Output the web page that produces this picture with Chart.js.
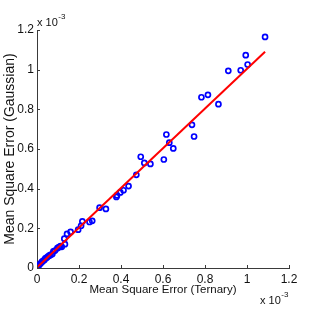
<!DOCTYPE html>
<html>
<head>
<meta charset="utf-8">
<script src="https://cdn.jsdelivr.net/npm/chart.js@4/dist/chart.umd.min.js"></script>
<style>
html,body{margin:0;padding:0;background:#fff;}
#wrap{width:311px;height:311px;}
</style>
</head>
<body>
<div id="wrap"><canvas id="c" width="311" height="311"></canvas></div>
<script>
// values in units of 1e-3
const ternaryMSE = [0.002,0.006,0.010,0.014,0.020,0.024,0.030,0.036,0.040,0.046,0.052,0.058,0.064,0.073,0.078,0.086,0.097,0.104,0.112,0.118,0.133,0.130,0.143,0.160,0.196,0.210,0.216,0.250,0.263,0.298,0.328,0.378,0.381,0.397,0.412,0.436,0.473,0.494,0.511,0.540,0.604,0.616,0.630,0.649,0.738,0.748,0.783,0.814,0.864,0.911,0.970,0.994,1.003,1.086];
const gaussianMSE = [0.003,0.010,0.015,0.020,0.026,0.032,0.036,0.042,0.049,0.052,0.058,0.062,0.066,0.070,0.084,0.088,0.100,0.105,0.110,0.107,0.120,0.148,0.172,0.182,0.193,0.213,0.235,0.232,0.238,0.304,0.298,0.358,0.366,0.381,0.392,0.413,0.470,0.561,0.530,0.525,0.547,0.673,0.632,0.603,0.722,0.663,0.861,0.873,0.826,0.994,0.997,1.073,1.026,1.165];
const fitX = [0, 1.086];
const fitY = [0.003, 1.090];
const tickValues = [0, 0.2, 0.4, 0.6, 0.8, 1, 1.2];
const tickLabels = ['0','0.2','0.4','0.6','0.8','1','1.2'];
const xTitle = 'Mean Square Error (Ternary)';
const yTitle = 'Mean Square Error (Gaussian)';
const exponentBase = 'x 10';
const exponentPow = '-3';

const FONT = '"Liberation Sans", Arial, Helvetica, sans-serif';
const AXIS = '#3a3a3a';
const TEXT = '#111';

const points = ternaryMSE.map((x,i)=>({x:x, y:gaussianMSE[i]}));
const fitLine = fitX.map((x,i)=>({x:x, y:fitY[i]}));

const innerTicks = {
  id:'innerTicks',
  afterDraw(chart){
    const ctx = chart.ctx, xs = chart.scales.x, ys = chart.scales.y, a = chart.chartArea;
    ctx.save();
    ctx.strokeStyle = AXIS; ctx.lineWidth = 1;
    tickValues.forEach(v=>{
      const px = Math.round(xs.getPixelForValue(v))+0.5;
      ctx.beginPath(); ctx.moveTo(px, a.bottom); ctx.lineTo(px, a.bottom-3); ctx.stroke();
      const py = Math.round(ys.getPixelForValue(v))+0.5;
      ctx.beginPath(); ctx.moveTo(a.left, py); ctx.lineTo(a.left+3, py); ctx.stroke();
    });
    ctx.fillStyle = TEXT;
    ctx.textBaseline = 'alphabetic'; ctx.textAlign = 'left';
    ctx.font = '11px ' + FONT;
    ctx.fillText(exponentBase, a.left, 26);
    let w = ctx.measureText(exponentBase).width;
    ctx.font = '8px ' + FONT;
    ctx.fillText(exponentPow, a.left + w + 0.5, 19);
    ctx.font = '11px ' + FONT;
    ctx.fillText(exponentBase, 260, 304);
    w = ctx.measureText(exponentBase).width;
    ctx.font = '8px ' + FONT;
    ctx.fillText(exponentPow, 260 + w + 0.5, 297);
    ctx.restore();
  }
};

new Chart(document.getElementById('c'), {
  type:'scatter',
  data:{
    datasets:[
      {type:'line', data:fitLine, borderColor:'#ff0000', borderWidth:2, pointRadius:0, fill:false, order:0},
      {type:'scatter', data:points, borderColor:'#0000ff', backgroundColor:'rgba(0,0,0,0)', borderWidth:1.7, pointRadius:2.5, pointHoverRadius:2.5, order:1}
    ]
  },
  options:{
    responsive:false,
    animation:false,
    devicePixelRatio:1,
    layout:{padding:{top:30, right:22, left:0, bottom:0}},
    plugins:{legend:{display:false}, tooltip:{enabled:false}},
    scales:{
      x:{
        type:'linear', min:0, max:1.2,
        afterFit(s){ s.height = 43; },
        afterBuildTicks(s){ s.ticks = tickValues.map(v=>({value:v})); },
        grid:{display:true, drawOnChartArea:false, drawTicks:false},
        border:{display:true, color:AXIS, width:1},
        ticks:{padding:4, color:TEXT, font:{family:FONT, size:12}, maxRotation:0, autoSkip:false,
          callback:(v,i)=>tickLabels[tickValues.indexOf(v)]},
        title:{display:true, text:xTitle, color:TEXT, font:{family:FONT, size:11.5}, padding:{top:0, bottom:14}}
      },
      y:{
        type:'linear', min:0, max:1.2,
        afterFit(s){ s.width = 37; },
        afterBuildTicks(s){ s.ticks = tickValues.map(v=>({value:v})); },
        grid:{display:true, drawOnChartArea:false, drawTicks:false},
        border:{display:true, color:AXIS, width:1},
        ticks:{padding:3, color:TEXT, font:{family:FONT, size:12}, autoSkip:false,
          callback:(v,i)=>tickLabels[tickValues.indexOf(v)]},
        title:{display:true, text:yTitle, color:TEXT, font:{family:FONT, size:14}, padding:{top:2, bottom:0}}
      }
    }
  },
  plugins:[innerTicks]
});
</script>
</body>
</html>
